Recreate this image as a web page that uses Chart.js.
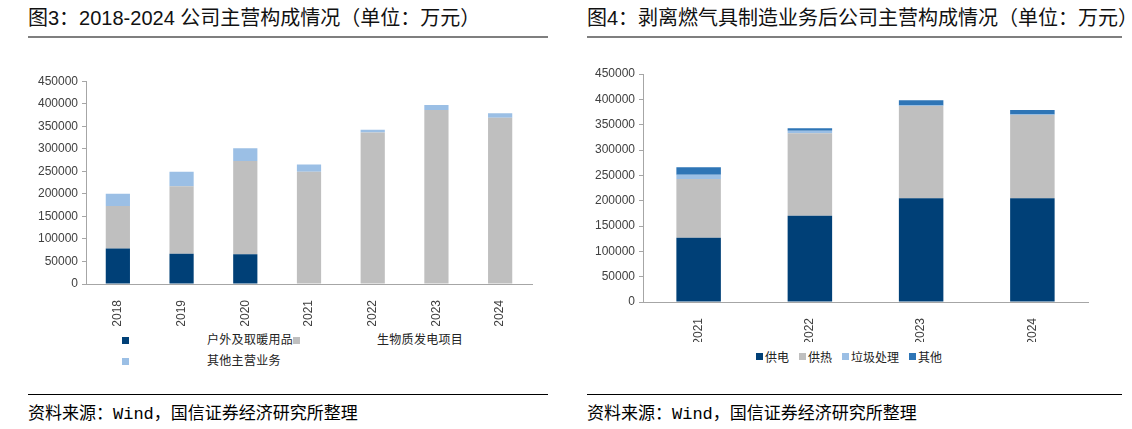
<!DOCTYPE html>
<html>
<head>
<meta charset="utf-8">
<script src="https://cdn.jsdelivr.net/npm/chart.js@4"></script>
<style>
  body { margin: 0; background: #fff; width: 1132px; height: 429px; position: relative; overflow: hidden;
         font-family: "Liberation Sans", "Noto Sans CJK SC", sans-serif; color: #000; }
  .title { position: absolute; top: 6px; font-size: 20px; line-height: 24px; white-space: nowrap; font-weight: normal; color: #111; }
  .rule-top { position: absolute; top: 36px; height: 2px; background: #7f7f7f; }
  .rule-bot { position: absolute; top: 394px; height: 1px; background: #000; }
  .source { position: absolute; top: 401px; font-size: 17px; line-height: 22px; white-space: nowrap;
            font-family: "Liberation Mono", "Noto Sans CJK SC", monospace; }
  .source span { font-family: "Noto Sans CJK SC", sans-serif; }
  canvas { position: absolute; }
  .legend { position: absolute; font-size: 12px; color: #222; font-family: "Noto Sans CJK SC", sans-serif; white-space: nowrap; }
  .legend .sw { display: inline-block; width: 7px; height: 7px; }
  #legend1 { left: 122px; top: 330px; display: grid; grid-template-columns: 85px 86px 84px auto; row-gap: 4px; align-items: center; letter-spacing: 0.3px; }
  #legend2 { left: 756px; top: 348px; display: flex; align-items: center; }
  #legend2 .item { display: flex; align-items: center; margin-right: 10px; }
  #legend2 .sw { margin-right: 2px; }
</style>
</head>
<body>
<div class="title" style="left:28px">图3：2018-2024 公司主营构成情况（单位：万元）</div>
<div class="rule-top" style="left:28px;width:520px"></div>
<div class="title" style="left:587px">图4：剥离燃气具制造业务后公司主营构成情况（单位：万元）</div>
<div class="rule-top" style="left:587px;width:535px"></div>

<canvas id="chart1" width="510" height="256" style="left:30px;top:70px"></canvas>
<div class="legend" id="legend1"></div>

<canvas id="chart2" width="505" height="280" style="left:590px;top:62px"></canvas>
<div class="legend" id="legend2"></div>

<div class="rule-bot" style="left:28px;width:520px"></div>
<div class="source" style="left:28px"><span>资料来源：</span>Wind<span>，国信证券经济研究所整理</span></div>
<div class="rule-bot" style="left:587px;width:535px"></div>
<div class="source" style="left:587px"><span>资料来源：</span>Wind<span>，国信证券经济研究所整理</span></div>

<script>
// fig 3: 2018-2024
const years1 = ['2018', '2019', '2020', '2021', '2022', '2023', '2024'];
const outdoor = [79000, 67000, 66000, 0, 0, 0, 0];
const biomass = [94000, 150000, 207000, 249000, 336000, 386000, 369000];
const otherMain = [27000, 32000, 28000, 16000, 6000, 11000, 10000];
const names1 = ['户外及取暖用品', '生物质发电项目', '其他主营业务'];

// fig 4: after spin-off
const years2 = ['2021', '2022', '2023', '2024'];
const power = [127000, 170000, 205000, 205000];
const heat = [116000, 163000, 182000, 164000];
const waste = [8000, 5000, 1000, 1000];
const others = [15000, 5000, 10000, 9000];
const names2 = ['供电', '供热', '垃圾处理', '其他'];

const yTicks = [0, 50000, 100000, 150000, 200000, 250000, 300000, 350000, 400000, 450000];

const navy = '#004077', grey = '#bfbfbf', lightBlue = '#9bbfe5', midBlue = '#2e75b6';
const tickFont = { family: 'Liberation Sans, Arial, sans-serif', size: 12 };

function scales(yWidth, xHeight) {
  return {
    x: {
      stacked: true,
      grid: { display: false },
      border: { color: '#a6a6a6' },
      ticks: { color: '#404040', font: tickFont, minRotation: 90, maxRotation: 90, padding: 8, autoSkip: false },
      afterFit: s => { s.height = xHeight; }
    },
    y: {
      stacked: true,
      min: 0, max: 450000,
      afterBuildTicks: s => { s.ticks = yTicks.map(v => ({ value: v })); },
      grid: { drawOnChartArea: false, tickLength: 4, color: '#a6a6a6' },
      border: { color: '#a6a6a6' },
      ticks: { color: '#404040', font: tickFont, padding: 4, callback: v => String(v) },
      afterFit: s => { s.width = yWidth; }
    }
  };
}

function ds(label, data, color, pct) {
  return { label, data, backgroundColor: color, borderWidth: 0, barPercentage: pct, categoryPercentage: 1 };
}

const colors1 = [navy, grey, lightBlue];
new Chart(document.getElementById('chart1'), {
  type: 'bar',
  data: {
    labels: years1,
    datasets: [
      ds(names1[0], outdoor, colors1[0], 0.38),
      ds(names1[1], biomass, colors1[1], 0.38),
      ds(names1[2], otherMain, colors1[2], 0.38)
    ]
  },
  options: {
    responsive: false, animation: false,
    layout: { padding: { top: 10, right: 8, bottom: 0, left: 0 } },
    plugins: { legend: { display: false }, tooltip: { enabled: false } },
    scales: scales(56, 42)
  }
});

const colors2 = [navy, grey, lightBlue, midBlue];
new Chart(document.getElementById('chart2'), {
  type: 'bar',
  data: {
    labels: years2,
    datasets: [
      ds(names2[0], power, colors2[0], 0.4),
      ds(names2[1], heat, colors2[1], 0.4),
      ds(names2[2], waste, colors2[2], 0.4),
      ds(names2[3], others, colors2[3], 0.4)
    ]
  },
  options: {
    responsive: false, animation: false,
    layout: { padding: { top: 12, right: 7, bottom: 0, left: 0 } },
    plugins: { legend: { display: false }, tooltip: { enabled: false } },
    scales: scales(53, 40)
  }
});

// legends (excel style)
const lg1 = document.getElementById('legend1');
[[0, 1], [2]].forEach(row => {
  row.forEach(i => {
    lg1.insertAdjacentHTML('beforeend', '<span><span class="sw" style="background:' + colors1[i] + '"></span></span><span>' + names1[i] + '</span>');
  });
});
const lg2 = document.getElementById('legend2');
names2.forEach((n, i) => {
  lg2.insertAdjacentHTML('beforeend', '<span class="item"><span class="sw" style="background:' + colors2[i] + '"></span>' + n + '</span>');
});
</script>
</body>
</html>
